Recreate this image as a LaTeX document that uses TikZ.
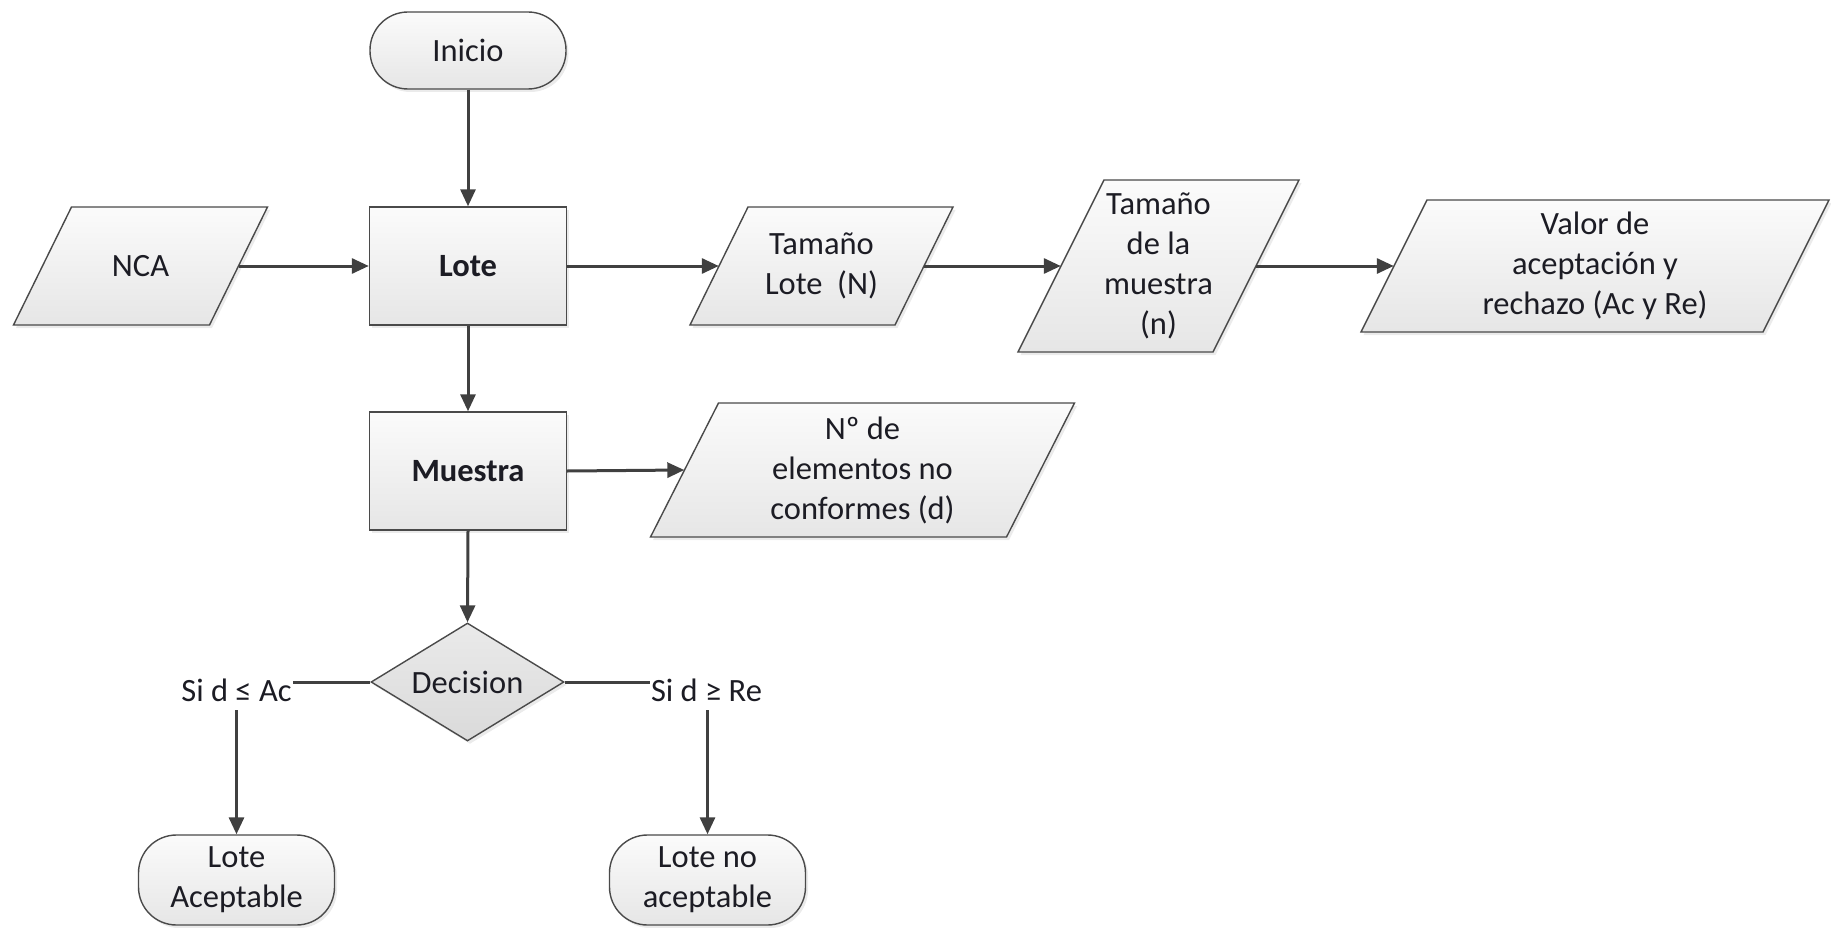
\documentclass[tikz,border=0pt]{standalone}
\usepackage{fontspec}
\setmainfont{Carlito}
\usetikzlibrary{arrows.meta,shapes.geometric,shadows}

\definecolor{edge}{HTML}{4A4A4A}
\definecolor{wire}{HTML}{404040}
\definecolor{filltop}{HTML}{FBFBFB}
\definecolor{fillbot}{HTML}{E6E6E6}
\definecolor{dectop}{HTML}{EAEAEA}
\definecolor{decbot}{HTML}{DADADA}
\definecolor{inktext}{HTML}{1C1C24}

\newcommand\flowfont{\fontsize{32.5}{40}\selectfont}

\tikzset{
  softshadow/.style={drop shadow={shadow xshift=2.5pt, shadow yshift=-3pt, opacity=0.16}},
  base/.style={draw=edge, line width=1.4pt, top color=filltop, bottom color=fillbot,
    text=inktext, font=\flowfont, align=center, inner sep=0pt, softshadow},
  term/.style={base, rounded corners=38pt, minimum width=196pt},
  proc/.style={base, minimum width=197pt, minimum height=118pt, font=\flowfont\bfseries},
  decis/.style={base, diamond, aspect=1.64, minimum width=193pt, minimum height=118pt,
    top color=dectop, bottom color=decbot},
  iobox/.style={draw=edge, line width=1.4pt, top color=filltop, bottom color=fillbot, softshadow},
  iotext/.style={text=inktext, font=\flowfont, align=center, inner sep=0pt},
  conn/.style={draw=wire, line width=3pt, -{Triangle[length=17pt,width=15pt]}},
  cond/.style={fill=white, text=inktext, font=\flowfont, inner xsep=1pt, inner ysep=9pt}
}

% data (input/output) shape: a parallelogram leaning right, with a text node on top
% #1 name, #2 centre x, #3 centre y, #4 half width at mid height, #5 half height, #6 half slant, #7 text
\newcommand\ioshape[7]{%
  \path[iobox] ({#2-#4-#6},{#3+#5}) -- ({#2+#4-#6},{#3+#5})
       -- ({#2+#4+#6},{#3-#5}) -- ({#2-#4+#6},{#3-#5}) -- cycle;
  \node[iotext, minimum width={2*#4}, minimum height={2*#5}] (#1) at (#2,#3) {#7};
}

\begin{document}
\begin{tikzpicture}[x=1pt, y=-1pt]
  \useasboundingbox (0,0) rectangle (1831,928);

  % process column
  \node[term, minimum height=77pt] (ini) at (468,50.5) {Inicio};
  \node[proc] (lote) at (468,266) {Lote};
  \node[proc] (mue) at (468,471) {Muestra};
  \node[decis] (dec) at (467.5,682) {Decision};
  \node[term, minimum height=90pt] (la) at (236.5,880) {Lote\\Aceptable};
  \node[term, minimum height=90pt] (lna) at (707.5,880) {Lote no\\aceptable};

  % data shapes
  \ioshape{nca}{140.5}{266}{98}{59}{29}{NCA}
  \ioshape{tl}{821.5}{266}{102.5}{59}{29}{Tamaño\\Lote~ (N)}
  \ioshape{tm}{1158.5}{266}{97.5}{86}{43}{Tamaño\\de la\\muestra\\(n)}
  \ioshape{val}{1595}{266}{201}{66}{33}{Valor de\\aceptación y\\rechazo (Ac y Re)}
  \ioshape{nde}{862.5}{470}{178}{67}{34}{Nº de\\elementos no\\conformes (d)}

  % connectors
  \draw[conn] (ini.south) -- (lote.north);
  \draw[conn] (nca.east) -- (lote.west);
  \draw[conn] (lote.east) -- (tl.west);
  \draw[conn] (tl.east) -- (tm.west);
  \draw[conn] (tm.east) -- (val.west);
  \draw[conn] (lote.south) -- (mue.north);
  \draw[conn] (mue.east) -- (nde.west);
  \draw[conn] (mue.south) -- (dec.north);
  \draw[conn] (dec.west) -| (la.north);
  \draw[conn] (dec.east) -| (lna.north);

  % branch conditions, set over the bends of the connectors
  \node[cond] (accept) at (236.5,690) {Si d ≤ Ac};
  \node[cond] (reject) at (706.5,690) {Si d ≥ Re};
\end{tikzpicture}
\end{document}
